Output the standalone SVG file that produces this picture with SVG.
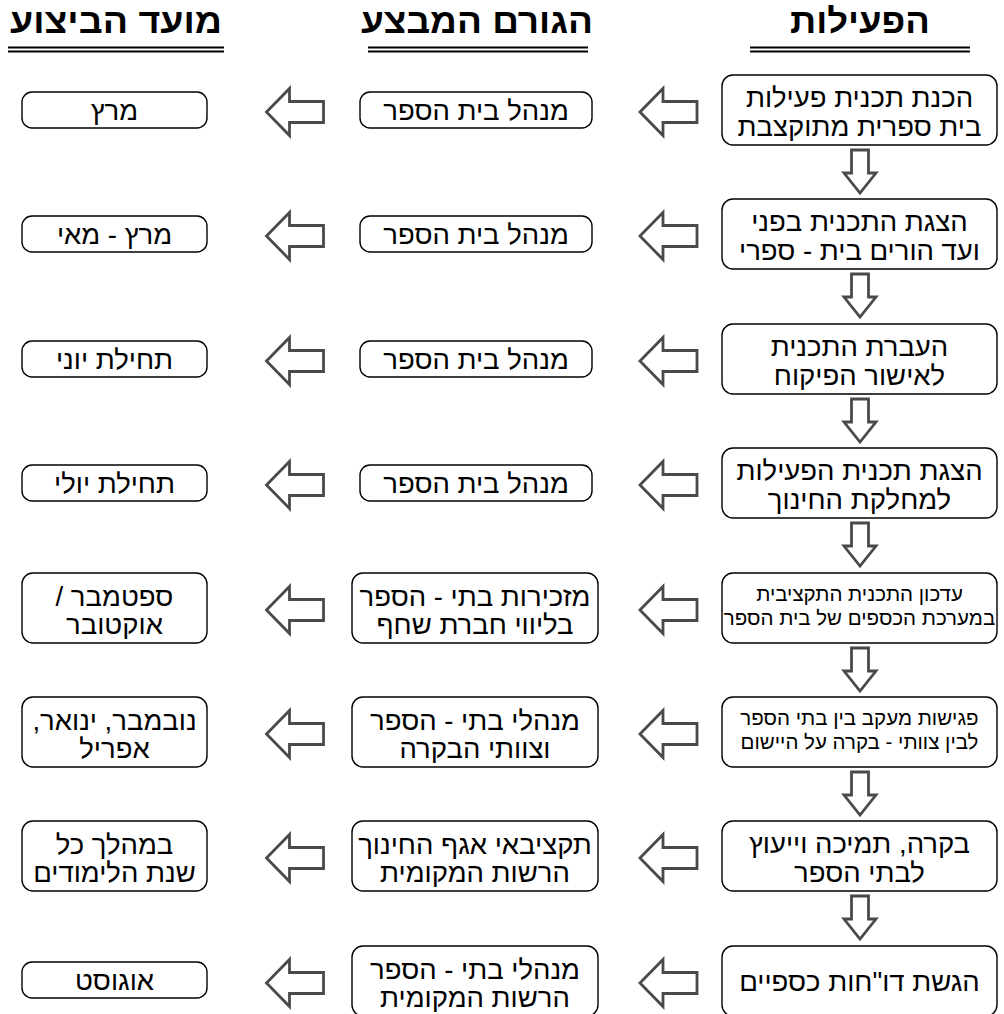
<svg xmlns="http://www.w3.org/2000/svg" xmlns:xlink="http://www.w3.org/1999/xlink" width="1004" height="1014" viewBox="0 0 1004 1014">
  <style>
    .box { fill: #ffffff; stroke: #000000; stroke-width: 1.4; }
    .arr { fill: #ffffff; stroke: #4a4a4a; stroke-width: 2.8; stroke-linejoin: miter; }
    .t { font-family: "Liberation Sans", "DejaVu Sans", sans-serif; font-size: 27.5px; fill: #000000; text-anchor: middle; direction: rtl; }
    .s { font-size: 20.5px; }
    .h { font-family: "Liberation Sans", "DejaVu Sans", sans-serif; font-weight: bold; font-size: 34px; fill: #000000; text-anchor: middle; direction: rtl; }
    .rule { stroke: #000000; stroke-width: 2; }
  </style>
  <defs>
    <!-- hollow block arrow pointing left, centred on the origin -->
    <path id="arrL" class="arr" d="M-28.5,0 L-5.5,-23.5 L-5.5,-10.5 L28.5,-10.5 L28.5,10.5 L-5.5,10.5 L-5.5,23.5 Z"/>
    <!-- hollow block arrow pointing down, top centre on the origin -->
    <path id="arrD" class="arr" d="M-8.5,0 L8.5,0 L8.5,23 L16,23 L0,43 L-16,23 L-8.5,23 Z"/>
  </defs>

  <rect width="1004" height="1014" fill="#ffffff"/>

  <!-- column headings -->
  <g id="headers">
    <text class="h" x="860" y="33" textLength="140" lengthAdjust="spacingAndGlyphs">הפעילות</text>
    <text class="h" x="477" y="33" textLength="232" lengthAdjust="spacingAndGlyphs">הגורם המבצע</text>
    <text class="h" x="116" y="33" textLength="212" lengthAdjust="spacingAndGlyphs">מועד הביצוע</text>
    <line class="rule" x1="750" y1="47.5" x2="970" y2="47.5"/>
    <line class="rule" x1="750" y1="51.5" x2="970" y2="51.5"/>
    <line class="rule" x1="368" y1="47.5" x2="588" y2="47.5"/>
    <line class="rule" x1="368" y1="51.5" x2="588" y2="51.5"/>
    <line class="rule" x1="8" y1="47.5" x2="224" y2="47.5"/>
    <line class="rule" x1="8" y1="51.5" x2="224" y2="51.5"/>
  </g>

  <!-- activities column -->
  <g id="act1"><rect class="box" x="722" y="75" width="275" height="70" rx="11"/>
    <text class="t" x="859.5" y="107">הכנת תכנית פעילות</text><text class="t" x="859.5" y="136">בית ספרית מתוקצבת</text></g>
  <g id="act2"><rect class="box" x="722" y="199" width="275" height="70" rx="11"/>
    <text class="t" x="859.5" y="231">הצגת התכנית בפני</text><text class="t" x="859.5" y="260">ועד הורים בית - ספרי</text></g>
  <g id="act3"><rect class="box" x="722" y="324" width="275" height="70" rx="11"/>
    <text class="t" x="859.5" y="356">העברת התכנית</text><text class="t" x="859.5" y="385">לאישור הפיקוח</text></g>
  <g id="act4"><rect class="box" x="722" y="448" width="275" height="70" rx="11"/>
    <text class="t" x="859.5" y="480">הצגת תכנית הפעילות</text><text class="t" x="859.5" y="509">למחלקת החינוך</text></g>
  <g id="act5"><rect class="box" x="722" y="573" width="275" height="70" rx="11"/>
    <text class="t s" x="859.5" y="601">עדכון התכנית התקציבית</text><text class="t s" x="859.5" y="625">במערכת הכספים של בית הספר</text></g>
  <g id="act6"><rect class="box" x="722" y="697" width="275" height="70" rx="11"/>
    <text class="t s" x="859.5" y="725">פגישות מעקב בין בתי הספר</text><text class="t s" x="859.5" y="749">לבין צוותי - בקרה על היישום</text></g>
  <g id="act7"><rect class="box" x="722" y="821" width="275" height="70" rx="11"/>
    <text class="t" x="859.5" y="853">בקרה, תמיכה וייעוץ</text><text class="t" x="859.5" y="882">לבתי הספר</text></g>
  <g id="act8"><rect class="box" x="722" y="946" width="275" height="70" rx="11"/>
    <text class="t" x="859.5" y="991">הגשת דו"חות כספיים</text></g>

  <!-- responsible party column -->
  <g id="who1"><rect class="box" x="360" y="92" width="232" height="36" rx="10"/>
    <text class="t" x="476" y="120">מנהל בית הספר</text></g>
  <g id="who2"><rect class="box" x="360" y="216" width="232" height="36" rx="10"/>
    <text class="t" x="476" y="244">מנהל בית הספר</text></g>
  <g id="who3"><rect class="box" x="360" y="341" width="232" height="36" rx="10"/>
    <text class="t" x="476" y="369">מנהל בית הספר</text></g>
  <g id="who4"><rect class="box" x="360" y="465" width="232" height="36" rx="10"/>
    <text class="t" x="476" y="493">מנהל בית הספר</text></g>
  <g id="who5"><rect class="box" x="352" y="573" width="246" height="70" rx="11"/>
    <text class="t" x="475" y="606">מזכירות בתי - הספר</text><text class="t" x="475" y="634">בליווי חברת שחף</text></g>
  <g id="who6"><rect class="box" x="352" y="697" width="246" height="70" rx="11"/>
    <text class="t" x="475" y="730">מנהלי בתי - הספר</text><text class="t" x="475" y="758">וצוותי הבקרה</text></g>
  <g id="who7"><rect class="box" x="352" y="821" width="246" height="70" rx="11"/>
    <text class="t" x="475" y="854">תקציבאי אגף החינוך</text><text class="t" x="475" y="882">הרשות המקומית</text></g>
  <g id="who8"><rect class="box" x="352" y="946" width="246" height="70" rx="11"/>
    <text class="t" x="475" y="979">מנהלי בתי - הספר</text><text class="t" x="475" y="1007">הרשות המקומית</text></g>

  <!-- schedule column -->
  <g id="when1"><rect class="box" x="22" y="92" width="185" height="36" rx="10"/>
    <text class="t" x="114.5" y="120">מרץ</text></g>
  <g id="when2"><rect class="box" x="22" y="216" width="185" height="36" rx="10"/>
    <text class="t" x="114.5" y="244">מרץ - מאי</text></g>
  <g id="when3"><rect class="box" x="22" y="341" width="185" height="36" rx="10"/>
    <text class="t" x="114.5" y="369">תחילת יוני</text></g>
  <g id="when4"><rect class="box" x="22" y="465" width="185" height="36" rx="10"/>
    <text class="t" x="114.5" y="493">תחילת יולי</text></g>
  <g id="when5"><rect class="box" x="22" y="573" width="185" height="70" rx="11"/>
    <text class="t" x="114.5" y="606">ספטמבר /</text><text class="t" x="114.5" y="634">אוקטובר</text></g>
  <g id="when6"><rect class="box" x="22" y="697" width="185" height="70" rx="11"/>
    <text class="t" x="114.5" y="730">נובמבר, ינואר,</text><text class="t" x="114.5" y="758">אפריל</text></g>
  <g id="when7"><rect class="box" x="22" y="821" width="185" height="70" rx="11"/>
    <text class="t" x="114.5" y="854">במהלך כל</text><text class="t" x="114.5" y="882">שנת הלימודים</text></g>
  <g id="when8"><rect class="box" x="22" y="962" width="185" height="36" rx="10"/>
    <text class="t" x="114.5" y="990">אוגוסט</text></g>

  <!-- connectors -->
  <g id="connectors">
    <use xlink:href="#arrL" transform="translate(668.5,112)"/>
    <use xlink:href="#arrL" transform="translate(668.5,236)"/>
    <use xlink:href="#arrL" transform="translate(668.5,361)"/>
    <use xlink:href="#arrL" transform="translate(668.5,485)"/>
    <use xlink:href="#arrL" transform="translate(668.5,610)"/>
    <use xlink:href="#arrL" transform="translate(668.5,734)"/>
    <use xlink:href="#arrL" transform="translate(668.5,858)"/>
    <use xlink:href="#arrL" transform="translate(668.5,983)"/>

    <use xlink:href="#arrL" transform="translate(295,112)"/>
    <use xlink:href="#arrL" transform="translate(295,236)"/>
    <use xlink:href="#arrL" transform="translate(295,361)"/>
    <use xlink:href="#arrL" transform="translate(295,485)"/>
    <use xlink:href="#arrL" transform="translate(295,610)"/>
    <use xlink:href="#arrL" transform="translate(295,734)"/>
    <use xlink:href="#arrL" transform="translate(295,858)"/>
    <use xlink:href="#arrL" transform="translate(295,983)"/>

    <use xlink:href="#arrD" transform="translate(860,150)"/>
    <use xlink:href="#arrD" transform="translate(860,274)"/>
    <use xlink:href="#arrD" transform="translate(860,399)"/>
    <use xlink:href="#arrD" transform="translate(860,523)"/>
    <use xlink:href="#arrD" transform="translate(860,648)"/>
    <use xlink:href="#arrD" transform="translate(860,772)"/>
    <use xlink:href="#arrD" transform="translate(860,896)"/>
  </g>
</svg>
